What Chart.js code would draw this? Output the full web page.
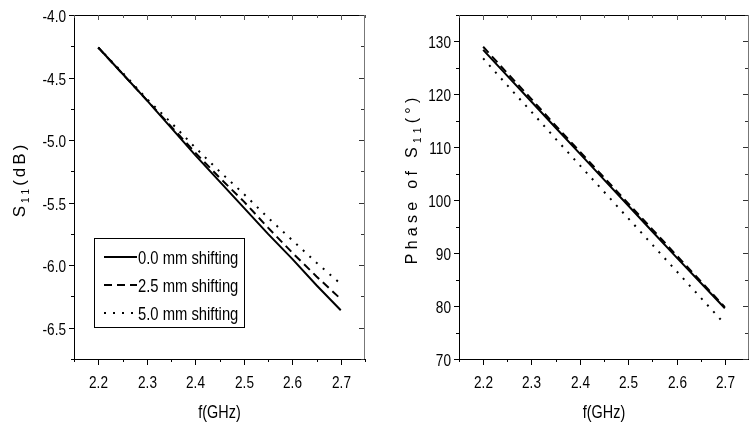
<!DOCTYPE html>
<html><head><meta charset="utf-8">
<script src="https://cdn.jsdelivr.net/npm/chart.js@4.4.1/dist/chart.umd.min.js"></script>
<style>
html,body{margin:0;padding:0;background:#fff;overflow:hidden;width:749px;height:432px}
#c1{position:absolute;left:0;top:0}
#c2{position:absolute;left:375px;top:0}
</style></head>
<body>
<canvas id="c1" width="375" height="432"></canvas>
<canvas id="c2" width="374" height="432"></canvas>
<script>
// ---------- data ----------
const freq = [2.2, 2.25, 2.3, 2.35, 2.4, 2.45, 2.5, 2.55, 2.6, 2.65, 2.7];
const seriesLabels = ['0.0 mm shifting', '2.5 mm shifting', '5.0 mm shifting'];
const s11_00 = [-4.26, -4.47, -4.68, -4.90, -5.12, -5.33, -5.54, -5.75, -5.95, -6.16, -6.36];
const s11_25 = [-4.26, -4.47, -4.68, -4.89, -5.10, -5.30, -5.49, -5.70, -5.90, -6.09, -6.27];
const s11_50 = [-4.26, -4.46, -4.67, -4.86, -5.06, -5.25, -5.43, -5.62, -5.80, -5.98, -6.15];
const ph_00 = [128.4, 123.5, 118.6, 113.7, 108.8, 103.9, 99.0, 94.1, 89.2, 84.4, 79.6];
const ph_25 = [129.0, 124.0, 119.1, 114.1, 109.2, 104.3, 99.4, 94.5, 89.6, 84.7, 79.8];
const ph_50 = [126.8, 121.7, 116.7, 111.6, 106.6, 101.6, 96.6, 91.6, 86.6, 81.6, 76.6];
const xTickVals = [2.15, 2.2, 2.25, 2.3, 2.35, 2.4, 2.45, 2.5, 2.55, 2.6, 2.65, 2.7, 2.75];
const xTickLabels = ['2.2', '2.3', '2.4', '2.5', '2.6', '2.7'];
const yTickValsL = [-6.75, -6.5, -6.25, -6.0, -5.75, -5.5, -5.25, -5.0, -4.75, -4.5, -4.25, -4.0];
const yTickLabelsL = ['-6.5', '-6.0', '-5.5', '-5.0', '-4.5', '-4.0'];
const yTickValsR = [70, 75, 80, 85, 90, 95, 100, 105, 110, 115, 120, 125, 130, 135];
const yTickLabelsR = ['70', '80', '90', '100', '110', '120', '130'];

const SANS = "'Liberation Sans',Arial,sans-serif";
const NARROW_X = 0.8; // horizontal compression to mimic a narrow face
const styles = [
  {borderDash: [], borderWidth: 2},
  {borderDash: [8, 5], borderWidth: 2},
  {borderDash: [2, 7], borderWidth: 2}
];

function mkData(arrs) {
  return {
    datasets: arrs.map((a, i) => ({
      label: seriesLabels[i],
      data: freq.map((f, k) => ({x: f, y: a[k]})),
      borderColor: '#000',
      backgroundColor: '#000',
      borderWidth: styles[i].borderWidth,
      borderDash: styles[i].borderDash,
      borderCapStyle: 'butt',
      pointRadius: 0,
      tension: 0,
      fill: false
    }))
  };
}

function pickLabel(v, labels, step, digits) {
  const isMajor = Math.abs(v / step - Math.round(v / step)) < 1e-6;
  if (!isMajor) return '';
  const s = v.toFixed(digits);
  return labels.includes(s) ? s : '';
}

function narrowText(ctx, text, x, y, size, align, baseline) {
  ctx.save();
  ctx.font = size + 'px ' + SANS;
  ctx.textBaseline = baseline;
  const w = ctx.measureText(text).width * NARROW_X;
  let x0 = x;
  if (align === 'center') x0 = x - w / 2;
  else if (align === 'right') x0 = x - w;
  ctx.translate(x0, y);
  ctx.scale(NARROW_X, 1);
  ctx.textAlign = 'left';
  ctx.fillText(text, 0, 0);
  ctx.restore();
}

// decorations: top/right frame lines, tick marks, labels, titles, legend
const deco = {
  id: 'deco',
  afterDraw(chart, args, o) {
    const ctx = chart.ctx;
    const {left, right, top, bottom} = chart.chartArea;
    const xs = chart.scales.x, ys = chart.scales.y;
    ctx.save();
    ctx.lineWidth = 1;
    ctx.fillStyle = '#000';
    // top line
    ctx.strokeStyle = '#000';
    ctx.beginPath(); ctx.moveTo(left, top + 0.5); ctx.lineTo(right, top + 0.5); ctx.stroke();
    // right line
    ctx.strokeStyle = '#777';
    ctx.beginPath(); ctx.moveTo(right - 0.5, top); ctx.lineTo(right - 0.5, bottom); ctx.stroke();
    // x ticks + labels
    xs.ticks.forEach(t => {
      const px = Math.round(xs.getPixelForValue(t.value)) + 0.5;
      const major = t.label !== '';
      ctx.strokeStyle = '#000';
      ctx.beginPath(); ctx.moveTo(px, bottom); ctx.lineTo(px, bottom + (major ? 6 : 3)); ctx.stroke();
      ctx.strokeStyle = '#555';
      ctx.beginPath(); ctx.moveTo(px, top); ctx.lineTo(px, top + (major ? 5 : 3)); ctx.stroke();
      if (major) narrowText(ctx, t.label, px, bottom + 29, 17, 'center', 'alphabetic');
    });
    // y ticks + labels
    ys.ticks.forEach(t => {
      const py = Math.round(ys.getPixelForValue(t.value)) + 0.5;
      const major = t.label !== '';
      ctx.strokeStyle = '#000';
      ctx.beginPath(); ctx.moveTo(left, py); ctx.lineTo(left - (major ? 5 : 3), py); ctx.stroke();
      ctx.strokeStyle = '#333';
      ctx.beginPath(); ctx.moveTo(right - 1, py); ctx.lineTo(right - 1 - (major ? 5 : 3), py); ctx.stroke();
      if (major) narrowText(ctx, t.label, left - 8, py + 6, 17, 'right', 'alphabetic');
    });
    // x title
    narrowText(ctx, o.xTitle, (left + right) / 2, o.xTitleY, 18, 'center', 'middle');
    // y title (rotated, letter-spaced, with subscript)
    ctx.save();
    ctx.translate(o.yTitleX, (top + bottom) / 2 + o.yTitleDy);
    ctx.rotate(-Math.PI / 2);
    ctx.textAlign = 'left';
    ctx.textBaseline = 'alphabetic';
    const sp = o.yTitleSpacing;
    const chars = [];
    o.yTitleParts.forEach(p => {
      for (const ch of p.t) chars.push({ch, size: p.size, dy: p.dy});
    });
    let total = 0;
    chars.forEach(c => { ctx.font = c.size + 'px ' + SANS; c.w = ctx.measureText(c.ch).width; total += c.w + sp; });
    total -= sp;
    let x = -total / 2;
    chars.forEach(c => { ctx.font = c.size + 'px ' + SANS; ctx.fillText(c.ch, x, c.dy); x += c.w + sp; });
    ctx.restore();
    // legend
    const L = o.legend;
    ctx.strokeStyle = '#000';
    ctx.lineWidth = 1;
    ctx.strokeRect(L.x + 0.5, L.y + 0.5, L.w, L.h);
    chart.data.datasets.forEach((ds, i) => {
      const ry = L.y + L.row0 + i * L.rowGap;
      ctx.save();
      ctx.lineWidth = ds.borderWidth;
      ctx.setLineDash(ds.borderDash);
      ctx.beginPath(); ctx.moveTo(L.x + L.s0, ry); ctx.lineTo(L.x + L.s1, ry); ctx.stroke();
      ctx.restore();
      narrowText(ctx, ds.label, L.x + L.s1 + 1, ry + 6.5, 18.5, 'left', 'alphabetic');
    });
    ctx.restore();
  }
};

function mkOptions(cfg) {
  return {
    responsive: false,
    animation: false,
    devicePixelRatio: 1,
    layout: {padding: {top: 15, right: cfg.padRight, left: 0, bottom: 0}},
    plugins: {legend: {display: false}, tooltip: {enabled: false}, deco: cfg.deco},
    scales: {
      x: {
        type: 'linear', min: 2.15, max: 2.75,
        afterFit: s => { s.height = 73; },
        afterBuildTicks: s => { s.ticks = xTickVals.map(v => ({value: v})); },
        grid: {display: false},
        border: {display: true, color: '#000', width: 1},
        ticks: {
          display: false, autoSkip: false, maxRotation: 0,
          callback: v => pickLabel(v, xTickLabels, 0.1, 1)
        }
      },
      y: {
        type: 'linear', min: cfg.ymin, max: cfg.ymax,
        afterFit: s => { s.width = cfg.yWidth; },
        afterBuildTicks: s => { s.ticks = cfg.yTicks.map(v => ({value: v})); },
        grid: {display: false},
        border: {display: true, color: '#000', width: 1},
        ticks: {display: false, autoSkip: false, callback: cfg.yCallback}
      }
    }
  };
}

new Chart(document.getElementById('c1'), {
  type: 'line',
  data: mkData([s11_00, s11_25, s11_50]),
  options: mkOptions({
    padRight: 10, ymin: -6.75, ymax: -4.0, yWidth: 74, yTicks: yTickValsL,
    yCallback: v => pickLabel(v, yTickLabelsL, 0.5, 1),
    deco: {
      xTitle: 'f(GHz)', xTitleY: 413,
      yTitleX: 25, yTitleDy: -6, yTitleSpacing: 3,
      yTitleParts: [{t: 'S', size: 17, dy: 0}, {t: '11', size: 10, dy: 4}, {t: '(dB)', size: 17, dy: 0}],
      legend: {x: 94, y: 238, w: 150, h: 89, row0: 19, rowGap: 28, s0: 10, s1: 43}
    }
  }),
  plugins: [deco]
});

new Chart(document.getElementById('c2'), {
  type: 'line',
  data: mkData([ph_00, ph_25, ph_50]),
  options: mkOptions({
    padRight: 0, ymin: 70, ymax: 135, yWidth: 84, yTicks: yTickValsR,
    yCallback: v => pickLabel(v, yTickLabelsR, 10, 0),
    deco: {
      xTitle: 'f(GHz)', xTitleY: 413,
      yTitleX: 42, yTitleDy: -6, yTitleSpacing: 4.3,
      yTitleParts: [{t: 'Phase of S', size: 16, dy: 0}, {t: '11', size: 10, dy: 4}, {t: '(°)', size: 16, dy: 0}],
      legend: {x: 588, y: 37, w: 147, h: 88, row0: 20, rowGap: 28, s0: 9, s1: 42}
    }
  }),
  plugins: [deco]
});
</script>
</body></html>
